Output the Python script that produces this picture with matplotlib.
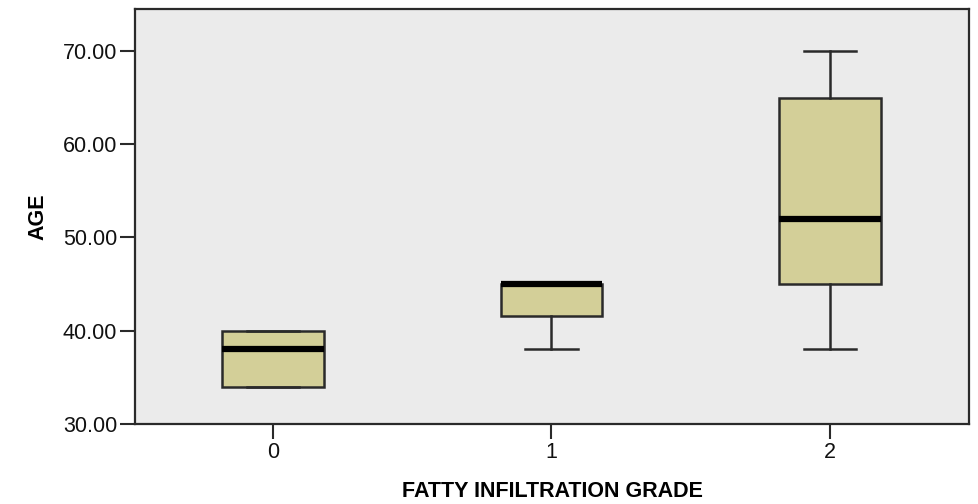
import matplotlib
matplotlib.use("Agg")
import matplotlib.pyplot as plt

# box statistics (AGE by fatty infiltration grade)
grades = ["0", "1", "2"]
q1 = [34.0, 41.6, 45.0]
median = [38.0, 45.0, 52.0]
q3 = [40.0, 45.0, 65.0]
whisker_low = [34.0, 38.0, 38.0]
whisker_high = [40.0, 45.0, 70.0]
y_ticks = [30, 40, 50, 60, 70]

plt.rcParams["font.family"] = ["Liberation Sans", "DejaVu Sans"]

fig = plt.figure(figsize=(9.79, 5.04), dpi=100)
ax = fig.add_axes([0.138, 0.159, 0.852, 0.823])
ax.set_facecolor("#ebebeb")

stats = [dict(label=g, q1=a, med=m, q3=b, whislo=lo, whishi=hi, fliers=[])
         for g, a, m, b, lo, hi in zip(grades, q1, median, q3,
                                       whisker_low, whisker_high)]
ax.bxp(stats, positions=range(len(grades)), widths=0.363, patch_artist=True,
       boxprops=dict(facecolor="#d3cf98", edgecolor="#2a2a2a", linewidth=1.8),
       medianprops=dict(color="black", linewidth=4.5, solid_capstyle="butt"),
       whiskerprops=dict(color="#2a2a2a", linewidth=1.8),
       capprops=dict(color="#2a2a2a", linewidth=1.8),
       capwidths=0.19)

ax.set_xlim(-0.495, 2.5)
ax.set_ylim(30, 74.5)
ax.set_yticks(y_ticks)
ax.set_yticklabels([f"{v:.2f}" for v in y_ticks])
ax.set_xticks(range(len(grades)))
ax.set_xticklabels(grades)

for s in ax.spines.values():
    s.set_color("#2a2a2a")
    s.set_linewidth(1.6)
ax.tick_params(direction="out", length=11, width=1.5, color="#2a2a2a",
               labelsize=15.5, pad=2, labelcolor="#111111")

ax.set_ylabel("AGE", fontsize=15.5, fontweight="bold", labelpad=10)
ax.set_xlabel("FATTY INFILTRATION GRADE", fontsize=15.5, fontweight="bold",
              labelpad=13)

fig.savefig("out.png", dpi=100)
